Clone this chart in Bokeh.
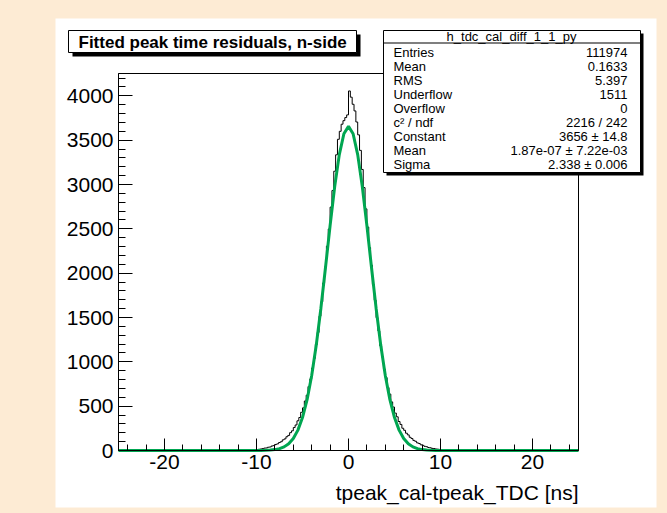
import numpy as np
from bokeh.plotting import figure
from bokeh.models import Range1d, FixedTicker, BoxAnnotation, Label, LinearAxis
from bokeh.embed import file_html
from bokeh.resources import INLINE

# ---------------- data ----------------
hist_range = (-25.0, 25.0)
n_bins = 250

# counts per 0.2 ns bin, -25 .. -10
tail_left = [1, 0, 1, 1, 0, 1, 0, 1, 1, 0, 1, 1, 0, 1, 1, 1, 0, 1, 1, 1, 1, 0, 1, 1, 1,
             1, 1, 1, 2, 1, 1, 1, 2, 1, 1, 2, 1, 2, 1, 2, 2, 1, 2, 2, 2, 2, 3, 2, 2, 3,
             3, 3, 3, 3, 4, 3, 4, 4, 4, 5, 4, 5, 5, 6, 5, 6, 6, 7, 7, 8, 8, 9, 9, 10, 10]
# -10 .. 0
core_left = [11, 14, 17, 21, 27, 29, 37, 40, 51, 55, 68, 75, 90, 99, 120, 131, 155, 170, 201, 222,
             259, 288, 335, 372, 431, 481, 558, 624, 722, 808, 931, 1040, 1195, 1331, 1515, 1678,
             1890, 2071, 2305, 2498, 2745, 2932, 3150, 3335, 3510, 3600, 3680, 3720, 3755, 3785]
# 0 .. 10
core_right = [4055, 3985, 3905, 3830, 3705, 3560, 3385, 3170, 2965, 2725, 2520, 2288, 2090, 1872,
              1695, 1498, 1348, 1180, 1055, 918, 822, 710, 636, 548, 490, 422, 380, 327, 294, 251,
              228, 195, 176, 149, 135, 114, 104, 86, 79, 64, 58, 47, 43, 34, 31, 24, 22, 17, 15, 12]
# 10 .. 25
tail_right = [10, 10, 9, 8, 8, 7, 7, 6, 6, 5, 5, 5, 4, 4, 4, 3, 4, 3, 3, 3, 3, 2, 3, 2, 2,
              2, 2, 2, 1, 2, 2, 1, 1, 2, 1, 1, 1, 1, 1, 2, 1, 1, 1, 0, 1, 1, 1, 1, 0, 1,
              1, 0, 1, 1, 0, 1, 0, 1, 1, 0, 1, 0, 0, 1, 1, 0, 1, 0, 0, 1, 0, 1, 0, 0, 1]
counts = tail_left + core_left + core_right + tail_right

# Gaussian fit curve, sampled every 0.5 ns from -25 to 25 (101 points)
fit_y = [0, 0, 0, 0, 0, 0, 0, 0, 0, 0, 0, 0, 0, 0, 0, 0, 0, 0, 0, 0, 0, 0, 0, 0, 0, 0, 0, 0, 0, 0,
         0, 1, 2, 5, 10, 21, 41, 77, 136, 230, 371, 573, 846, 1192, 1605, 2064, 2536, 2976, 3337, 3573,
         3656,
         3573, 3337, 2976, 2536, 2064, 1605, 1192, 846, 573, 371, 230, 136, 77, 41, 21, 10, 5, 2, 1, 0,
         0, 0, 0, 0, 0, 0, 0, 0, 0, 0, 0, 0, 0, 0, 0, 0, 0, 0, 0, 0, 0, 0, 0, 0, 0, 0, 0, 0, 0, 0]

x_ticks = [-20, -10, 0, 10, 20]
x_tick_labels = ["-20", "-10", "0", "10", "20"]
y_ticks = [0, 500, 1000, 1500, 2000, 2500, 3000, 3500, 4000]
y_max = 4252

title_text = "Fitted peak time residuals, n-side"
x_title = "tpeak_cal-tpeak_TDC [ns]"
stats_title = "h_tdc_cal_diff_1_1_py"
stat_names = ["Entries", "Mean", "RMS", "Underflow", "Overflow", "c\u00b2 / ndf",
              "Constant", "Mean", "Sigma"]
stat_values = ["111974", "0.1633", "5.397", "1511", "0", "2216 / 242",
               "3656 \u00b1 14.8", "1.87e-07 \u00b1 7.22e-03", "2.338 \u00b1 0.006"]

# ---------------- layout / styling ----------------
PEACH = "#FDEBD4"
GREEN = "#00A651"
FONT = "Liberation Sans"

W, H = 667, 513
# white panel (page px)
PL, PR, PT, PB = 55, 656, 18, 507
# ROOT frame (page px)
FL, FR, FT, FB = 118, 578, 73, 450

kx = (hist_range[1] - hist_range[0]) / (FR - FL)
ky = (y_max - 0) / (FB - FT)
x0 = hist_range[0] - (FL - PL) * kx
x1 = hist_range[1] + (PR - FR) * kx
y0 = 0 - (PB - FB) * ky
y1 = y_max + (FT - PT) * ky


def sx(X):
    return X - PL


def sy(Y):
    return PB - Y


p = figure(width=W, height=H, output_backend="svg", toolbar_location=None,
           x_range=Range1d(x0, x1), y_range=Range1d(y0, y1),
           x_axis_location=None, y_axis_location=None,
           min_border_left=PL, min_border_right=W - PR, min_border_top=PT, min_border_bottom=H - PB,
           background_fill_color="white", border_fill_color=PEACH)
p.outline_line_color = None
p.grid.visible = False

edges = np.linspace(hist_range[0], hist_range[1], n_bins + 1)
p.step(x=list(edges), y=counts + [counts[-1]], mode="after", line_color="black", line_width=1)
fit_x = np.linspace(hist_range[0], hist_range[1], len(fit_y))
p.line(x=list(fit_x), y=fit_y, line_color=GREEN, line_width=3)

# ROOT frame
p.add_layout(BoxAnnotation(left=hist_range[0], right=hist_range[1], bottom=0, top=y_max,
                           fill_alpha=0.0, line_color="black", line_alpha=1.0, line_width=1))

xa = LinearAxis(fixed_location=0, bounds=hist_range,
                ticker=FixedTicker(ticks=x_ticks, minor_ticks=list(range(-24, 25, 2))))
xa.major_label_overrides = {t: l for t, l in zip(x_ticks, x_tick_labels)}
ya = LinearAxis(fixed_location=hist_range[0], bounds=(0, y_max),
                ticker=FixedTicker(ticks=y_ticks, minor_ticks=list(range(0, 4300, 100))))
p.add_layout(xa, "below")
p.add_layout(ya, "left")
for ax, maj, mnr in ((xa, 12, 6), (ya, 14, 7)):
    ax.major_tick_in = maj
    ax.major_tick_out = 0
    ax.minor_tick_in = mnr
    ax.minor_tick_out = 0
    ax.axis_line_color = "black"
    ax.major_tick_line_color = "black"
    ax.minor_tick_line_color = "black"
    ax.major_label_text_font = FONT
    ax.major_label_text_font_size = "21px"
    ax.major_label_text_color = "black"
xa.major_label_standoff = 4
ya.major_label_standoff = 5


def box(l, t, r, b, fill, line=None):
    bx = BoxAnnotation(left=sx(l), right=sx(r), top=sy(t), bottom=sy(b),
                       left_units="screen", right_units="screen",
                       top_units="screen", bottom_units="screen",
                       fill_color=fill, fill_alpha=1.0,
                       line_color=line, line_alpha=1.0 if line else 0.0, line_width=1)
    p.add_layout(bx)


def text(X, Y, s, size, align="left", bold=False):
    p.add_layout(Label(x=sx(X), y=sy(Y), x_units="screen", y_units="screen", text=s,
                       text_font=FONT, text_font_size=size, text_align=align,
                       text_baseline="middle", text_color="black",
                       text_font_style="bold" if bold else "normal"))


# title box with shadow
box(72, 34, 360, 56, "black")
box(68, 30, 356, 52, "white", "black")
text(78, 41.5, title_text, "17px", bold=True)

# stats box with shadow
box(386, 33, 643, 175, "black")
box(383, 30, 640, 172, "white", "black")
box(383, 42, 640, 43, "black")
text(511, 36, stats_title, "13px", align="center")
for i, (n, v) in enumerate(zip(stat_names, stat_values)):
    yy = 52 + 14 * i
    text(393, yy, n, "13px")
    text(627, yy, v, "13px", align="right")

# x axis title
text(578, 492, x_title, "21px", align="right")

html = file_html(p, INLINE)
html = html.replace("</head>", "<style>html, body { background: %s; }</style></head>" % PEACH, 1)
open("out.html", "w").write(html)
